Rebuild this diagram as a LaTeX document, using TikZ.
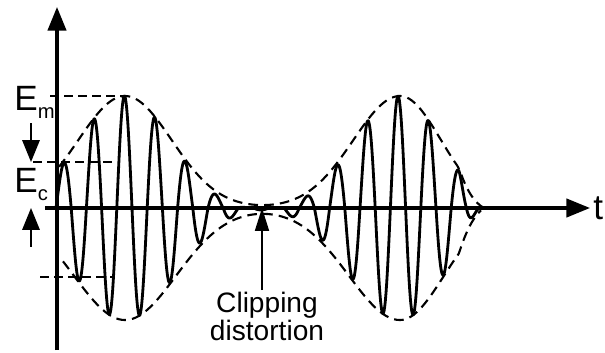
\documentclass[tikz,border=0pt]{standalone}
\usepackage{fontspec}
\setmainfont{Liberation Sans}
\usetikzlibrary{arrows.meta}
\newcommand{\lowsub}[1]{\raisebox{-5pt}{\fontsize{11.5}{11.5}\selectfont #1}}
\tikzset{declare function={
  tap(\x)=min(1,(484-\x)/25);
  gsq(\x,\c,\w)=exp(-((\x-\c)/\w)*((\x-\c)/\w));
  envU(\x)=112*tap(\x)*(gsq(\x,125,66)+gsq(\x,400,66-8*(\x>400)));
  envL(\x)=112*tap(\x)*(gsq(\x,125,72)+gsq(\x,400,72-10*(\x>400)));
  cut(\v)=1.037*max(0,\v-4);
  carr(\x)=sin(11.8421*(\x-56))*((sin(11.8421*(\x-56))>0)*cut(envU(\x))+(sin(11.8421*(\x-56))<0)*cut(envL(\x)));
}}

\begin{document}
\begin{tikzpicture}[x=0.02cm,y=-0.02cm,line join=round,
  axis/.style={line width=1.8pt,-{Triangle[length=13.5pt,width=10.5pt]}},
  wave/.style={line width=1.6pt},
  env/.style={line width=1.2pt,dash pattern=on 5.5pt off 3.5pt},
  lvl/.style={line width=1.2pt,dash pattern=on 5pt off 3pt},
  dim/.style={line width=0.8pt,-{Triangle[length=12.5pt,width=10pt]}},
  lab/.style={font=\fontsize{20}{20}\selectfont,inner sep=0pt}]
\useasboundingbox (0,0) rectangle (605,352);
% axes
\coordinate (xl) at (45,208); \coordinate (xr) at (590,208);
\coordinate (yb) at (57,350); \coordinate (yt) at (57,7);
\draw[axis] (xl) -- (xr);
\draw[axis] (yb) -- (yt);
% envelope, upper and lower
\draw[env] plot[domain=59:483,samples=150,smooth] (\x,{208-envU(\x)});
\draw[env] plot[domain=63:481,samples=150,smooth] (\x,{208+envL(\x)});
% modulated carrier
\draw[wave] plot[domain=56:481.6,samples=700] (\x,{208-carr(\x)});
% level lines
\coordinate (emL) at (50,96); \coordinate (emR) at (123,96);
\coordinate (ecL) at (33,162); \coordinate (ecR) at (115,162);
\coordinate (lwL) at (40,277); \coordinate (lwR) at (115,277);
\draw[lvl] (emL) -- (emR);
\draw[lvl] (ecL) -- (ecR);
\draw[lvl] (lwL) -- (lwR);
% E_c dimension arrows
\coordinate (ecA) at (31,162); \coordinate (axA) at (31,208);
\draw[dim] ([yshift=22pt]ecA) -- (ecA);
\draw[dim] ([yshift=-22pt]axA) -- (axA);
% labels
\node[lab,anchor=base west] (Em) at (14,110) {E\lowsub{m}};
\node[lab,anchor=base west] (Ec) at (14,192) {E\lowsub{c}};
\node[lab,anchor=west] (tl) at (593,208) {t};
\coordinate (clipPt) at (262,208);
\node[font=\fontsize{16}{13.5}\selectfont,align=center,inner sep=1pt,anchor=north] (clip) at (267,290) {Clipping\\distortion};
\draw[line width=0.8pt,-{Triangle[length=13pt,width=8pt]}] (clip.north -| clipPt) -- (clipPt);
\end{tikzpicture}
\end{document}
